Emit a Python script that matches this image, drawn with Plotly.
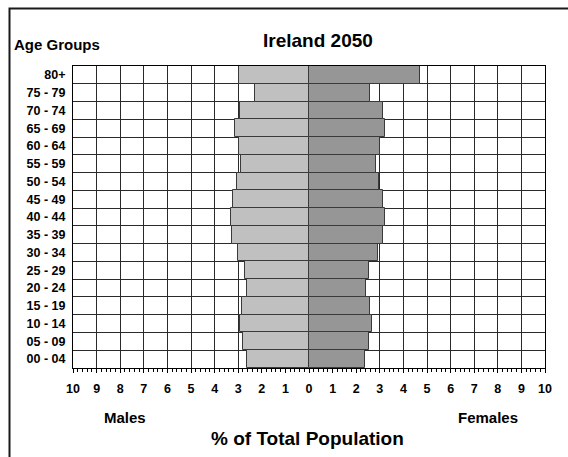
import plotly.graph_objects as go

# Age groups, bottom to top
age_groups = ["00 - 04", "05 - 09", "10 - 14", "15 - 19", "20 - 24", "25 - 29",
              "30 - 34", "35 - 39", "40 - 44", "45 - 49", "50 - 54", "55 - 59",
              "60 - 64", "65 - 69", "70 - 74", "75 - 79", "80+"]

# Share of total population (%)
males = [2.61, 2.80, 2.94, 2.85, 2.61, 2.70, 2.99, 3.26, 3.30, 3.22,
         3.05, 2.88, 2.98, 3.13, 2.92, 2.27, 2.98]
females = [2.37, 2.54, 2.67, 2.58, 2.42, 2.54, 2.94, 3.14, 3.22, 3.14,
           2.95, 2.84, 3.00, 3.22, 3.14, 2.60, 4.70]

x_ticks = list(range(-10, 11))
# Negative (male) side shows magnitudes only
label_alias = {}
for v in x_ticks:
    if v < 0:
        label_alias[str(v)] = str(abs(v))
        label_alias["\u2212" + str(abs(v))] = str(abs(v))

W, H = 568, 457
L, R, T, B = 73, 23, 66, 89
PW, PH = W - L - R, H - T - B


def px(x):
    return (x - L) / PW


def py(y):
    return (H - B - y) / PH


FONT = "Liberation Sans, Arial, sans-serif"
GRID = "#2a2a2a"

fig = go.Figure()
fig.add_trace(go.Bar(
    y=age_groups, x=[-v for v in males], orientation="h", name="Males",
    marker=dict(color="#c0c0c0", line=dict(color="#3a3a3a", width=1)),
))
fig.add_trace(go.Bar(
    y=age_groups, x=females, orientation="h", name="Females",
    marker=dict(color="#969696", line=dict(color="#3a3a3a", width=1)),
))

fig.update_layout(
    width=W, height=H,
    margin=dict(l=L, r=R, t=T, b=B, autoexpand=False),
    paper_bgcolor="white", plot_bgcolor="white",
    barmode="overlay", bargap=0,
    showlegend=False,
    font=dict(family=FONT, color="black"),
    xaxis=dict(
        range=[-10, 10], tickmode="linear", tick0=0, dtick=1,
        labelalias=label_alias,
        showgrid=True, gridcolor=GRID, gridwidth=1, zeroline=False,
        showline=True, linecolor="black", linewidth=1, mirror=True,
        ticks="outside", ticklen=4, tickcolor="black", tickwidth=1,
        ticklabelstandoff=5,
        minor=dict(tickmode="linear", dtick=0.2, tick0=0, ticks="outside",
                   ticklen=3, tickcolor="black", tickwidth=1, showgrid=False),
        tickfont=dict(family=FONT, size=12.5, color="black", weight="bold"),
        fixedrange=True,
    ),
    yaxis=dict(
        type="category", categoryorder="array", categoryarray=age_groups,
        tickson="boundaries", ticks="", showgrid=True, gridcolor=GRID,
        gridwidth=1, showline=True, linecolor="black", linewidth=1,
        mirror=True, ticklabelstandoff=4,
        tickfont=dict(family=FONT, size=12.5, color="black", weight="bold"),
        fixedrange=True,
    ),
)

annotations = [
    ("Ireland 2050", 318, 40, 19),
    ("Age Groups", 57, 45, 15),
    ("Males", 125, 417, 15),
    ("Females", 488, 417, 15),
    ("% of Total Population", 307, 438, 19),
]
for text, x, y, size in annotations:
    fig.add_annotation(
        text=text, x=px(x), y=py(y), xref="paper", yref="paper",
        xanchor="center", yanchor="middle", showarrow=False,
        font=dict(family=FONT, size=size, color="black", weight="bold"),
    )

# Outer frame (left and top edges)
fig.add_shape(
    type="path", xref="paper", yref="paper",
    path=f"M {px(9.5)} {py(470)} L {px(9.5)} {py(8.5)} L {px(580)} {py(8.5)}",
    line=dict(color="#1a1a1a", width=2),
)

fig.write_html("out.html")
